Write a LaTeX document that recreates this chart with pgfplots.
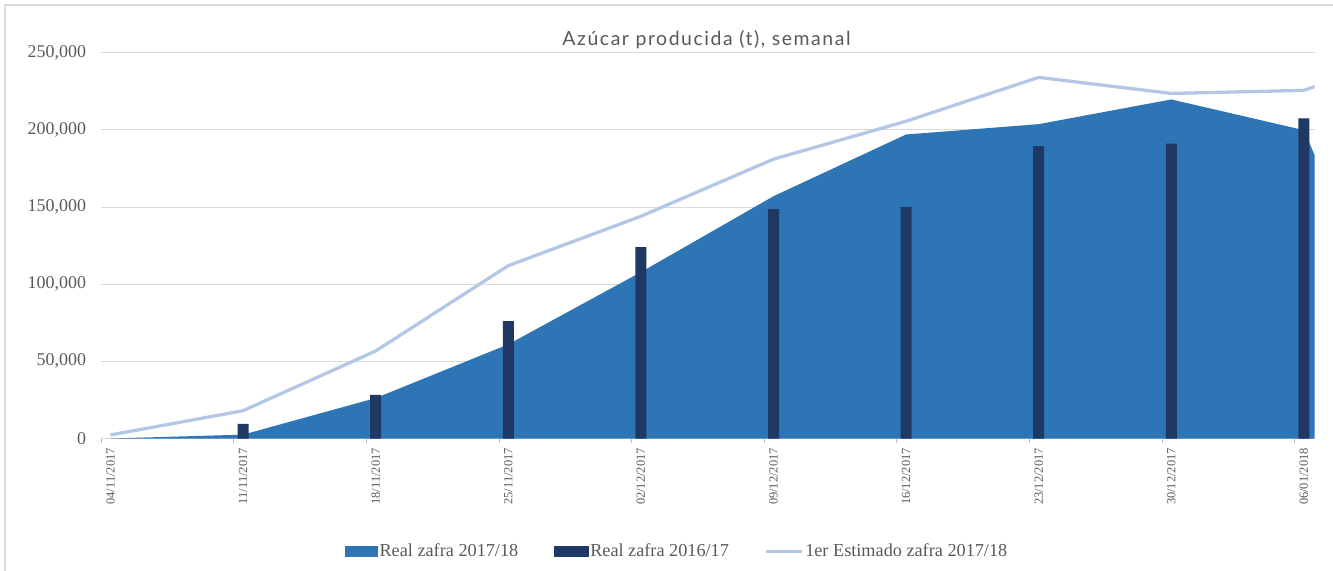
\documentclass[border=0pt]{standalone}
\usepackage{fontspec}
\setmainfont{Liberation Serif}
\newfontfamily\titlefont[LetterSpace=8]{Lato}
\usepackage{pgfplots}
\pgfplotsset{compat=1.18}
\definecolor{areacol}{HTML}{2E75B6}
\definecolor{barcol}{HTML}{203864}
\definecolor{linecol}{HTML}{B4C7E7}
\definecolor{txtcol}{HTML}{595959}
\definecolor{gridcol}{HTML}{D9D9D9}
\definecolor{tickcol}{HTML}{BFBFBF}
\begin{document}
\begin{tikzpicture}
\useasboundingbox (0bp,0bp) rectangle (1333bp,571bp);
\draw[gridcol, line width=1.2bp] (5bp,-10bp) -- (5bp,566bp) -- (1343bp,566bp);
\begin{axis}[
  at={(101.2bp,132.5bp)}, anchor=south west,
  scale only axis, width=1213.3bp, height=385.8bp,
  xmin=-0.07, xmax=9.08, ymin=0, ymax=250000,
  enlargelimits=false,
  axis lines=left,
  y axis line style={draw=none},
  x axis line style={-, draw=gridcol, line width=1bp},
  ymajorgrids, grid style={gridcol, line width=1bp},
  major tick length=0pt, minor tick length=4.5bp, tick align=outside,
  minor x tick style={draw=tickcol, line width=1bp},
  xtick={0,...,9},
  minor xtick={-0.07,0.93,1.93,2.93,3.93,4.93,5.93,6.93,7.93,8.93},
  xticklabels={04/11/2017,11/11/2017,18/11/2017,25/11/2017,02/12/2017,09/12/2017,16/12/2017,23/12/2017,30/12/2017,06/01/2018},
  x tick label style={rotate=90, anchor=east, font=\fontsize{12.5}{14}\selectfont, text=txtcol, inner sep=0pt},
  xticklabel shift=9.5bp,
  ytick={0,50000,...,250000},
  scaled y ticks=false,
  /pgf/number format/fixed,
  /pgf/number format/1000 sep={,},
  /pgf/number format/assume math mode=true,
  y tick label style={font=\fontsize{18}{20}\selectfont, text=txtcol, inner sep=0pt},
  yticklabel shift=15bp,
  legend columns=3,
  legend style={at={(0.4745,-0.292)}, anchor=center, draw=none, fill=none,
    font=\fontsize{18.3}{20}\selectfont, text=txtcol,
    /tikz/every even column/.append style={column sep=34bp},
    nodes={inner sep=1.5bp}},
]
\addplot[fill=areacol, draw=none,
  legend image code/.code={\fill[areacol] (0bp,-5.5bp) rectangle (33bp,5.5bp);}]
  coordinates {(0,0) (1,2500) (2,26200) (3,61000) (4,107800) (5,157000) (6,197000) (7,203700) (8,219700) (9,199800) (10,0)} \closedcycle;
\addlegendentry{Real zafra 2017/18}
\addplot[ybar, bar width=11bp, fill=barcol, draw=none,
  legend image code/.code={\fill[barcol] (0bp,-5.5bp) rectangle (35bp,5.5bp);}]
  coordinates {(1,9400) (2,28200) (3,76000) (4,124000) (5,148700) (6,150000) (7,189400) (8,191100) (9,207400)};
\addlegendentry{Real zafra 2016/17}
\addplot[linecol, line width=3.3bp, line join=round,
  legend image code/.code={\draw[linecol, line width=3.3bp] (0bp,0bp) -- (36bp,0bp);}]
  coordinates {(0,2300) (1,18000) (2,56700) (3,112000) (4,144000) (5,181000) (6,205600) (7,234000) (8,223600) (9,225600) (10,255000)};
\addlegendentry{1er Estimado zafra 2017/18}
\end{axis}
\node[font=\titlefont\fontsize{19.5}{21}\selectfont, text=txtcol, anchor=base] at (706.5bp,525.5bp) {Azúcar producida (t), semanal};
\end{tikzpicture}
\end{document}
